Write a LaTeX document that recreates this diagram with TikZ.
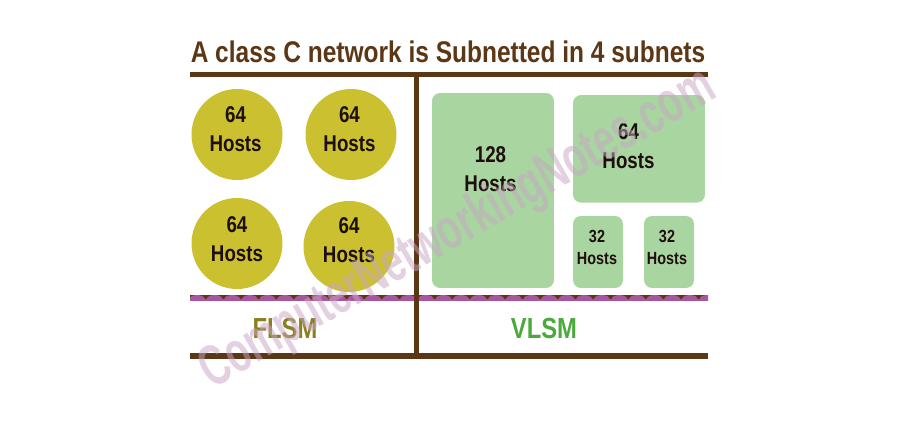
\documentclass[tikz,border=0pt]{standalone}
\usepackage{fontspec}
\setmainfont{Liberation Sans}[FakeStretch=0.82]
\newfontfamily\markfont{Liberation Sans}[FakeStretch=0.66]
\usetikzlibrary{positioning}
\definecolor{cbrown}{HTML}{5C3715}
\definecolor{cmustard}{HTML}{CBC030}
\definecolor{cmint}{HTML}{A8D5A0}
\definecolor{colive}{HTML}{8A801F}
\definecolor{cleaf}{HTML}{4CAA3C}
\definecolor{cplum}{HTML}{A8579F}
\definecolor{cink}{HTML}{1E0E0E}
\definecolor{cmark}{HTML}{C9A5C6}
\tikzset{
  every picture/.style={x=0.02cm, y=-0.02cm},
  rule/.style={draw=cbrown, line width=0.1cm},
  flsm/.style={circle, fill=cmustard, minimum size=1.82cm, inner sep=0pt},
  vlsm/.style={fill=cmint, rounded corners=0.16cm, inner sep=0pt},
  hosts/.style={font=\bfseries\fontsize{13}{16.4}\selectfont, text=cink, align=center, inner sep=0pt},
  small hosts/.style={hosts, font=\bfseries\fontsize{10}{12.5}\selectfont},
  title/.style={font=\bfseries\fontsize{17}{20}\selectfont, text=cbrown, inner sep=0pt, anchor=base},
  scheme/.style={font=\bfseries\fontsize{16.5}{20}\selectfont, inner sep=0pt, anchor=base},
  watermark/.style={font=\markfont\bfseries\fontsize{33}{36}\selectfont, text=cmark, opacity=0.5, rotate=30, inner sep=0pt},
}

\begin{document}
\begin{tikzpicture}
  \useasboundingbox[fill=white] (0,0) rectangle (900,421);
  \node[title] (head) at (448,62.5) {A class C network is Subnetted in 4 subnets};

  \node[flsm] (f1) at (237,134.5) {};
  \node[flsm] (f2) at (351,134.5) {};
  \node[flsm] (f3) at (237,243.5) {};
  \node[flsm] (f4) at (349,246.5) {};
  \node[hosts] (f1t) at (235.6,129) {64\\Hosts};
  \node[hosts] (f2t) at (349.5,129) {64\\Hosts};
  \node[hosts] (f3t) at (237,239) {64\\Hosts};
  \node[hosts] (f4t) at (349,240.5) {64\\Hosts};

  \node[vlsm, minimum width=2.44cm, minimum height=3.9cm] (v1) at (493,190.5) {};
  \node[vlsm, minimum width=2.64cm, minimum height=2.15cm] (v2) at (639,148.8) {};
  \node[vlsm, minimum width=1cm, minimum height=1.44cm] (v3) at (598,252) {};
  \node[vlsm, minimum width=1cm, minimum height=1.44cm] (v4) at (669,252) {};
  \node[hosts] (v1t) at (490.5,169.5) {128\\Hosts};
  \node[hosts] (v2t) at (628.5,146) {64\\Hosts};
  \node[small hosts] (v3t) at (597,247) {32\\Hosts};
  \node[small hosts] (v4t) at (667,247) {32\\Hosts};

  \fill[cplum] (190,295) rectangle (708,301);
  \fill[cbrown] (190,295) rectangle (708,299.5);
  \begin{scope}
    \clip (190,295) rectangle (708,301);
    \foreach \k in {0,...,29}
      \fill[cplum] (197+17.6*\k,299.5) ellipse [x radius=0.16cm, y radius=0.09cm];
  \end{scope}

  \coordinate (top-l) at (190,75);
  \coordinate (top-r) at (708,75);
  \coordinate (base-l) at (190,356);
  \coordinate (base-r) at (708,356);
  \coordinate (mid-t) at (416,75);
  \coordinate (mid-b) at (416,356);
  \draw[rule] (top-l) -- (top-r);
  \draw[rule, line width=0.12cm] (base-l) -- (base-r);
  \draw[rule] (mid-t) -- (mid-b);

  \node[scheme, text=colive] (fl) at (285,339) {FLSM};
  \node[scheme, text=cleaf] (vl) at (544,339) {VLSM};

  \node[watermark] (wm) at (458,230) {ComputerNetworkingNotes.com};
\end{tikzpicture}
\end{document}
